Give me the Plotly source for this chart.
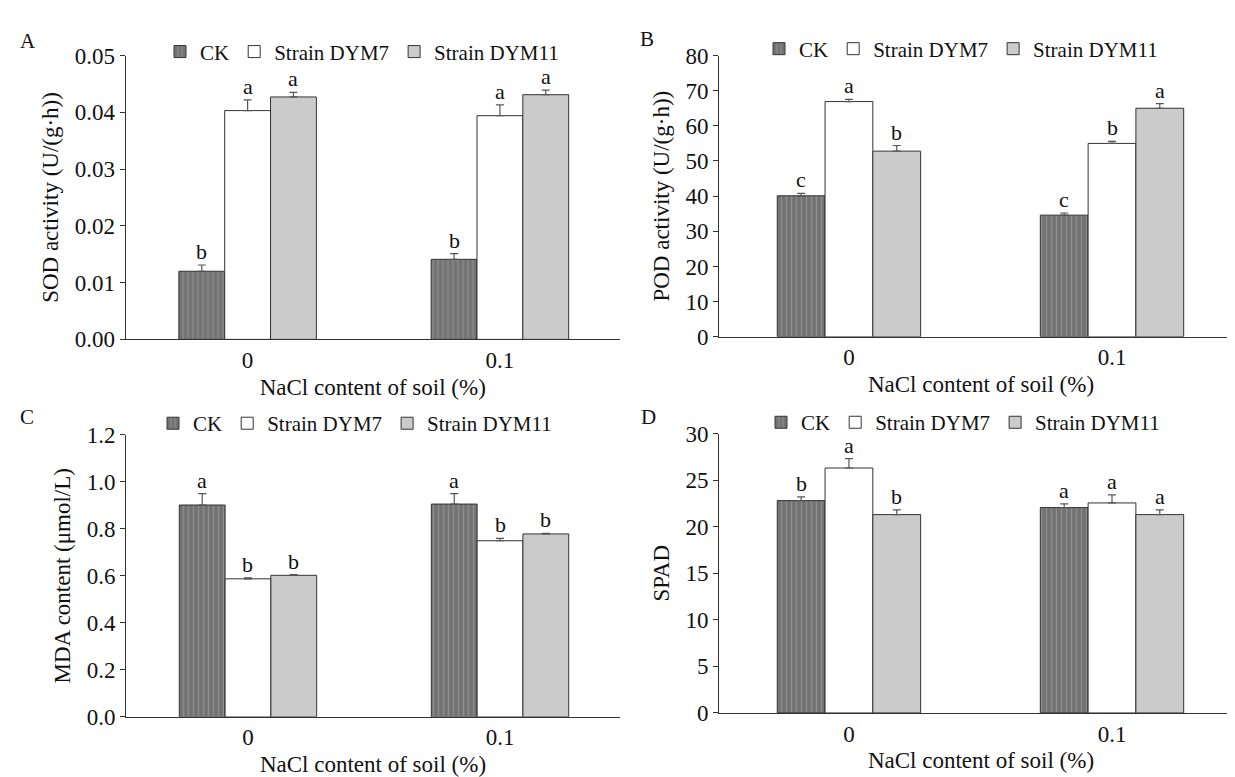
import plotly.graph_objects as go
from plotly.subplots import make_subplots

categories = ["0", "0.1"]
series_names = ["CK", "Strain DYM7", "Strain DYM11"]

# Panel A: SOD activity
sod_ck = [0.0120, 0.0141]
sod_dym7 = [0.0403, 0.0394]
sod_dym11 = [0.0427, 0.0431]
sod_err_ck = [0.0011, 0.0010]
sod_err_dym7 = [0.0019, 0.0019]
sod_err_dym11 = [0.0008, 0.0008]
sod_letters = [["b", "b"], ["a", "a"], ["a", "a"]]

# Panel B: POD activity
pod_ck = [40.1, 34.6]
pod_dym7 = [66.9, 55.0]
pod_dym11 = [52.8, 65.0]
pod_err_ck = [0.7, 0.6]
pod_err_dym7 = [0.6, 0.6]
pod_err_dym11 = [1.6, 1.3]
pod_letters = [["c", "c"], ["a", "b"], ["b", "a"]]

# Panel C: MDA content
mda_ck = [0.901, 0.905]
mda_dym7 = [0.587, 0.749]
mda_dym11 = [0.602, 0.778]
mda_err_ck = [0.048, 0.044]
mda_err_dym7 = [0.004, 0.010]
mda_err_dym11 = [0.003, 0.002]
mda_letters = [["a", "a"], ["b", "b"], ["b", "b"]]

# Panel D: SPAD
spad_ck = [22.8, 22.05]
spad_dym7 = [26.3, 22.55]
spad_dym11 = [21.3, 21.3]
spad_err_ck = [0.4, 0.4]
spad_err_dym7 = [1.0, 0.87]
spad_err_dym11 = [0.5, 0.5]
spad_letters = [["b", "a"], ["a", "a"], ["b", "a"]]

y_titles = ["SOD activity (U/(g·h))", "POD activity (U/(g·h))",
            "MDA content (μmol/L)", "SPAD"]
x_title = "NaCl content of soil (%)"
panel_labels = ["A", "B", "C", "D"]
y_ticks = [
    ([0, 0.01, 0.02, 0.03, 0.04, 0.05], ["0.00", "0.01", "0.02", "0.03", "0.04", "0.05"]),
    ([0, 10, 20, 30, 40, 50, 60, 70, 80], ["0", "10", "20", "30", "40", "50", "60", "70", "80"]),
    ([0, 0.2, 0.4, 0.6, 0.8, 1.0, 1.2], ["0.0", "0.2", "0.4", "0.6", "0.8", "1.0", "1.2"]),
    ([0, 5, 10, 15, 20, 25, 30], ["0", "5", "10", "15", "20", "25", "30"]),
]
y_ranges = [[0, 0.05], [0, 80], [0, 1.2], [0, 30]]

panels = [
    ([sod_ck, sod_dym7, sod_dym11], [sod_err_ck, sod_err_dym7, sod_err_dym11], sod_letters),
    ([pod_ck, pod_dym7, pod_dym11], [pod_err_ck, pod_err_dym7, pod_err_dym11], pod_letters),
    ([mda_ck, mda_dym7, mda_dym11], [mda_err_ck, mda_err_dym7, mda_err_dym11], mda_letters),
    ([spad_ck, spad_dym7, spad_dym11], [spad_err_ck, spad_err_dym7, spad_err_dym11], spad_letters),
]

FONT = "Liberation Serif"
W, H = 1235, 777
BARGAP = 0.455

fills = ["#727272", "#ffffff", "#cbcbcb"]

fig = make_subplots(rows=2, cols=2)

# pixel layout (left, right, top, bottom)
px_boxes = [
    (117.5, 612, 36.7, 330),
    (711, 1235, 36.7, 327.3),
    (118, 612, 428.5, 720),
    (711, 1235, 427.3, 716),
]
x_ranges = [[-0.484, 1.476], [-0.494, 1.498], [-0.484, 1.476], [-0.494, 1.498]]
legend_pos = [(152, 33), (751, 30), (145, 417), (753, 416)]
label_pos = [(20, 22), (639, 20), (19, 410), (640, 410)]

legend_names = ["legend", "legend2", "legend3", "legend4"]

for p, (vals, errs, letters) in enumerate(panels):
    r, c = p // 2 + 1, p % 2 + 1
    for j in range(3):
        marker = dict(color=fills[j], line=dict(color="#333333", width=1))
        if j == 0:
            marker["pattern"] = dict(shape="|", fgcolor="#8c8c8c", bgcolor="#727272",
                                     size=5, solidity=0.3, fillmode="replace")
        fig.add_trace(go.Bar(
            x=categories, y=vals[j], name=series_names[j],
            marker=marker,
            error_y=dict(type="data", array=errs[j], arrayminus=[0, 0],
                         symmetric=False, color="#555555", thickness=1.2, width=4),
            legend=legend_names[p], showlegend=True,
        ), row=r, col=c)
    w = (1 - BARGAP) / 3
    for j in range(3):
        for i in range(2):
            fig.add_annotation(
                x=i + (j - 1) * w, y=vals[j][i] + errs[j][i],
                text=letters[j][i], showarrow=False, yanchor="bottom", yshift=-1,
                font=dict(family=FONT, size=22, color="#111111"),
                row=r, col=c)

    left, right, top, bottom = px_boxes[p]
    xa = "xaxis" if p == 0 else f"xaxis{p+1}"
    ya = "yaxis" if p == 0 else f"yaxis{p+1}"
    fig.layout[xa].update(
        domain=[left / W, min(right / W, 1)], range=x_ranges[p],
        showline=True, linecolor="#333333", linewidth=1, ticks="",
        showgrid=False, zeroline=False,
        tickfont=dict(family=FONT, size=23, color="#111111"),
        title=dict(text=x_title, font=dict(family=FONT, size=23, color="#111111"), standoff=6),
    )
    fig.layout[ya].update(
        domain=[1 - bottom / H, 1 - top / H], range=y_ranges[p],
        tickvals=y_ticks[p][0], ticktext=y_ticks[p][1],
        showline=True, linecolor="#333333", linewidth=1, ticks="outside",
        ticklen=5, tickcolor="#333333", showgrid=False, zeroline=False,
        tickfont=dict(family=FONT, size=23, color="#111111"),
        title=dict(text=y_titles[p], font=dict(family=FONT, size=23, color="#111111"), standoff=9),
    )
    lx, ly = legend_pos[p]
    fig.layout[legend_names[p]] = dict(
        x=lx / W, y=1 - ly / H, xanchor="left", yanchor="middle",
        orientation="h", bgcolor="rgba(0,0,0,0)", borderwidth=0,
        font=dict(family=FONT, size=21, color="#111111"),
        itemwidth=30, tracegroupgap=0, itemclick=False,
    )
    lbx, lby = label_pos[p]
    fig.add_annotation(
        x=lbx / W, y=1 - lby / H, xref="paper", yref="paper",
        text=panel_labels[p], showarrow=False, xanchor="center", yanchor="middle",
        font=dict(family=FONT, size=21, color="#111111"))

fig.update_layout(
    width=W, height=H, margin=dict(l=0, r=0, t=0, b=0),
    barmode="group", bargap=BARGAP, bargroupgap=0,
    plot_bgcolor="white", paper_bgcolor="white",
    font=dict(family=FONT, color="#111111"),
)

fig.write_html("out.html")
